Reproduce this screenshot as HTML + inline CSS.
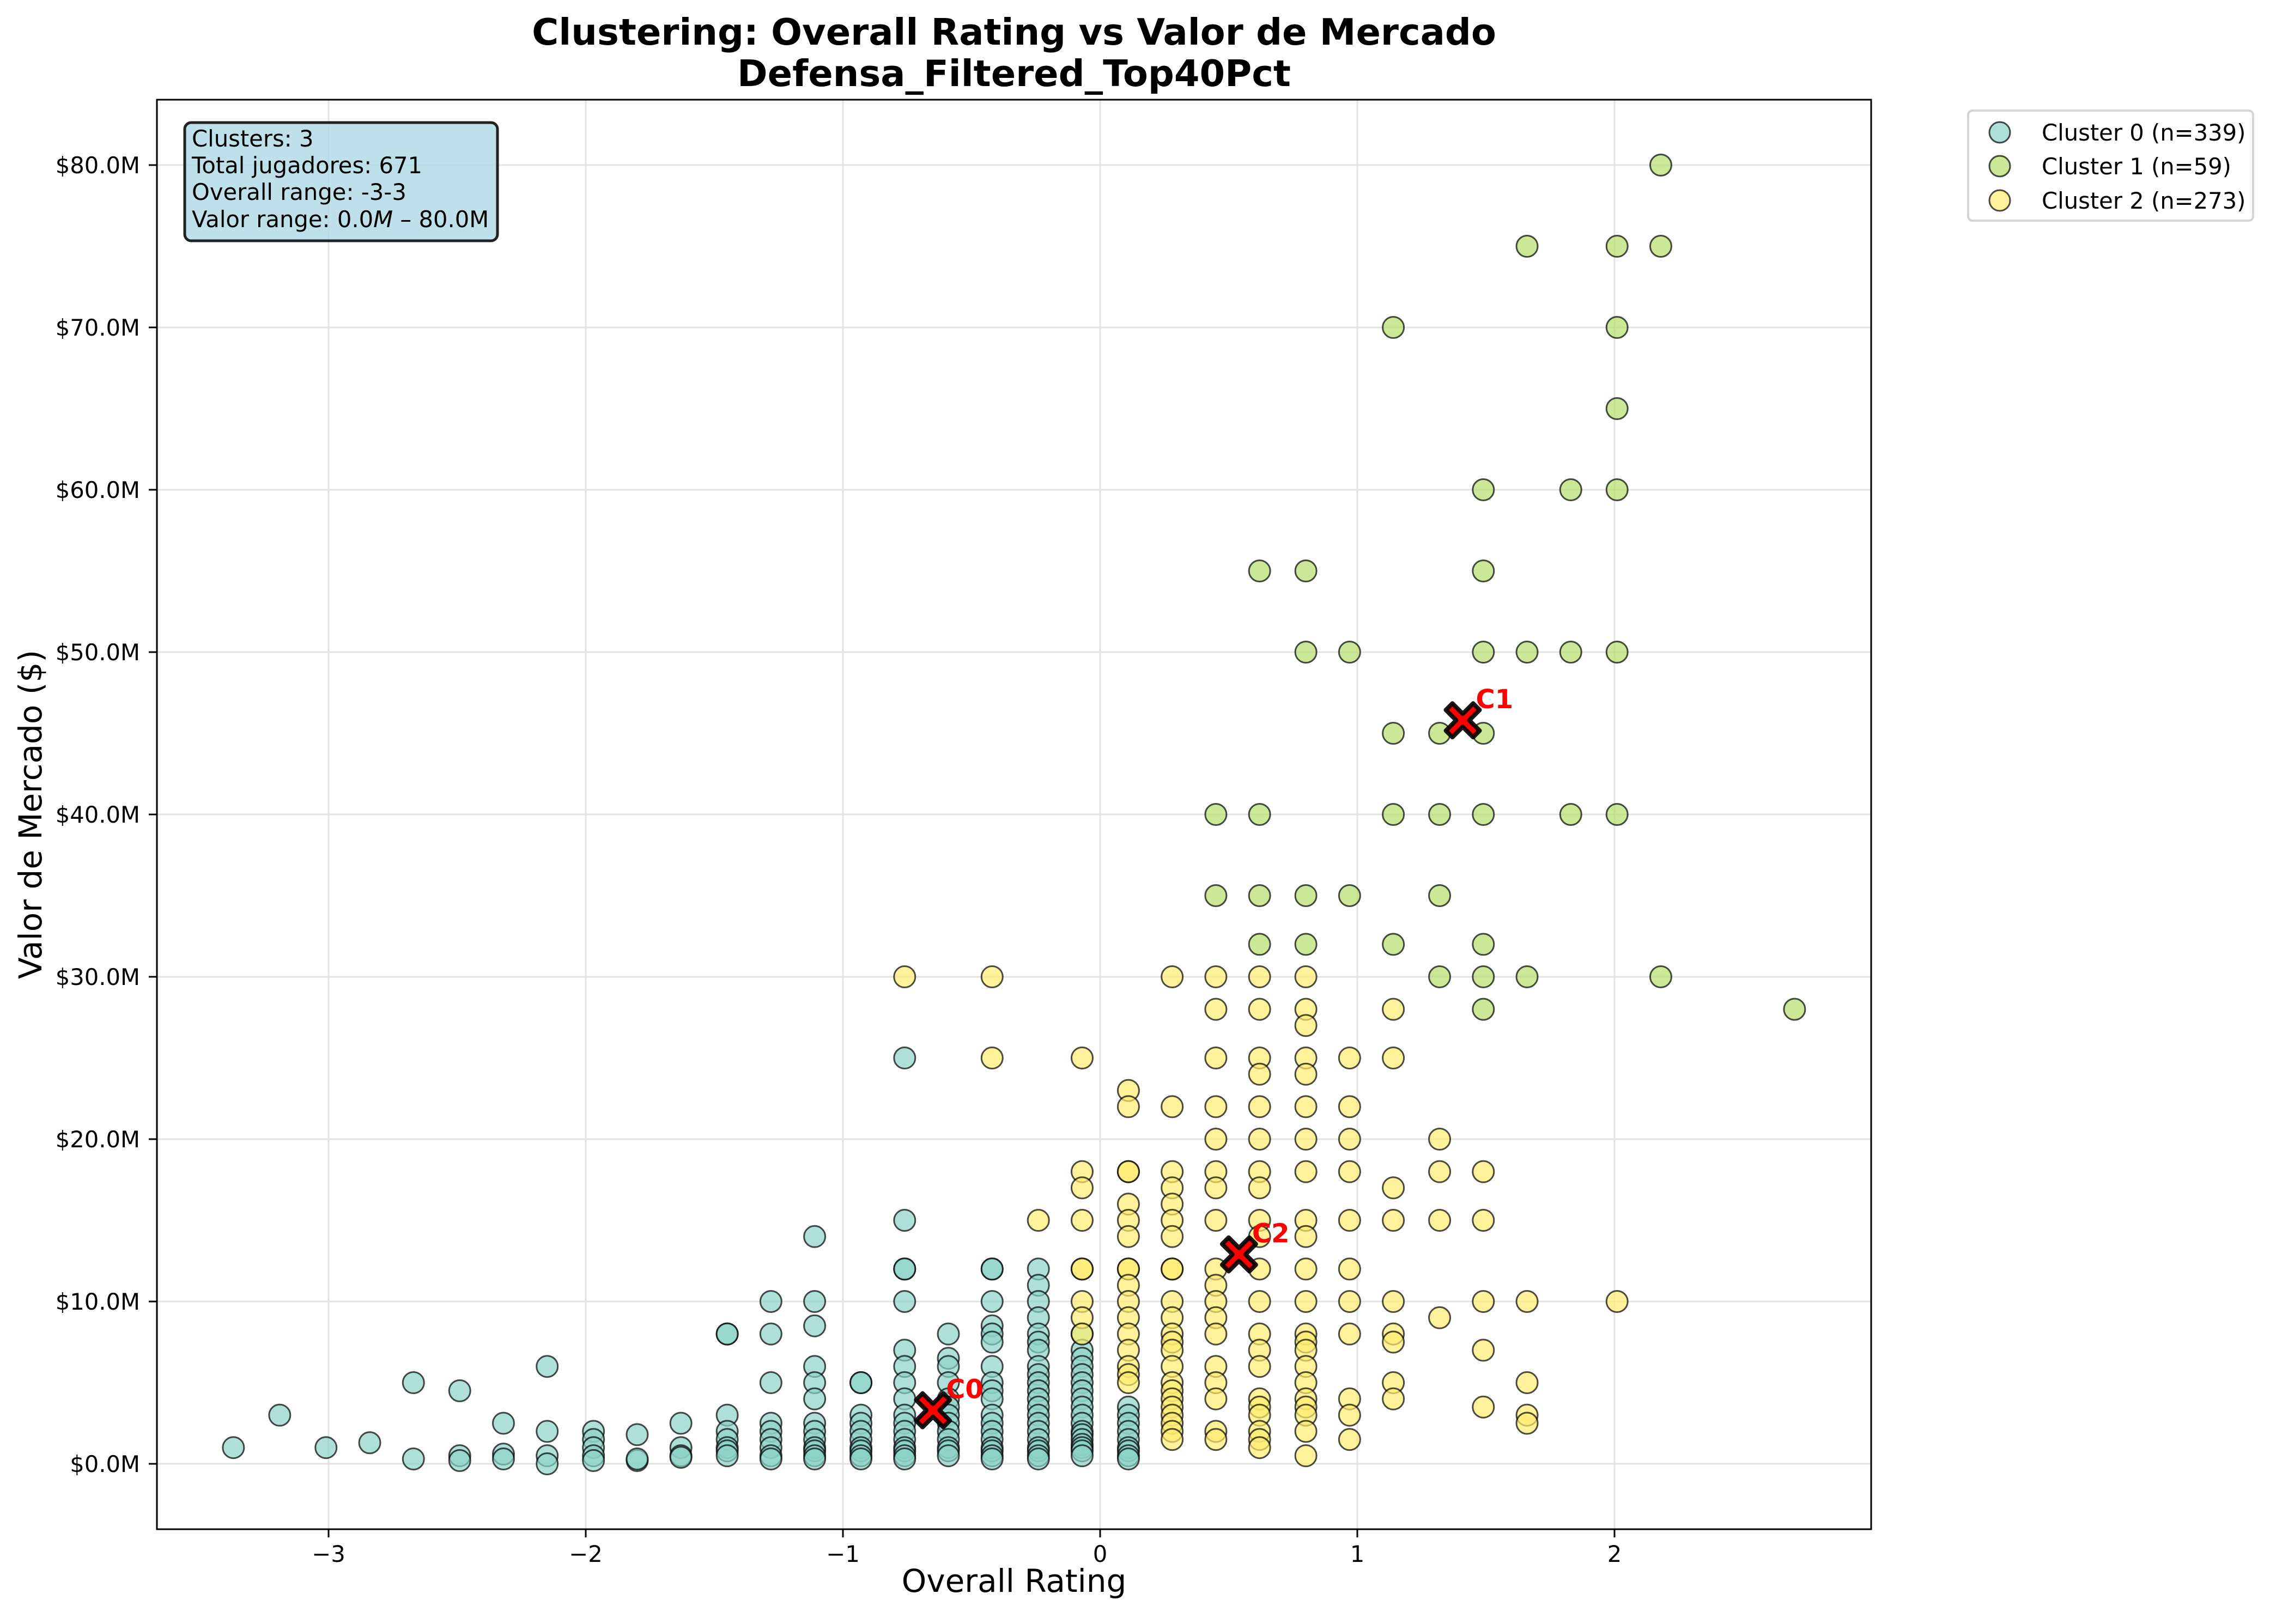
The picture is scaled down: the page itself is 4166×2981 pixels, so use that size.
<!DOCTYPE html>
<html><head><meta charset="utf-8"><style>
html,body{margin:0;padding:0;background:#fff;}
svg{display:block;font-family:"DejaVu Sans","Liberation Sans",sans-serif;}
</style></head><body>
<svg id="chart" width="4166" height="2981" viewBox="0 0 4166 2981" xmlns="http://www.w3.org/2000/svg">
<rect width="4166" height="2981" fill="#fff"/>
<text x="1861" y="82" font-size="67" font-weight="bold" text-anchor="middle">Clustering: Overall Rating vs Valor de Mercado</text>
<text x="1861" y="158" font-size="67" font-weight="bold" text-anchor="middle">Defensa_Filtered_Top40Pct</text>
<g id="grid"></g>
<g id="points"></g>
<g id="centroids"></g>
<rect x="288" y="183" width="3146" height="2624" fill="none" stroke="#000" stroke-width="3"/>
<g id="ticks"></g>
<text x="1861" y="2922" font-size="58" text-anchor="middle">Overall Rating</text>
<text transform="translate(76,1495) rotate(-90)" font-size="58" text-anchor="middle">Valor de Mercado ($)</text>
<g>
<rect x="339" y="225" width="574" height="217" rx="12" fill="#add8e6" fill-opacity="0.8" stroke="#222" stroke-width="5"/>
<text x="352" y="269" font-size="41.7">Clusters: 3</text>
<text x="352" y="318" font-size="41.7">Total jugadores: 671</text>
<text x="352" y="367" font-size="41.7">Overall range: -3-3</text>
<text x="352" y="417" font-size="41.7">Valor range: 0.0<tspan font-style="italic">M</tspan> – 80.0M</text>
</g>
<g>
<rect x="3612" y="203" width="523" height="202" rx="8" fill="#fff" stroke="#d5d5d5" stroke-width="4"/>
<g><circle cx="3670" cy="243" r="19" fill="#8dd3c7" fill-opacity="0.7" stroke="#000" stroke-opacity="0.7" stroke-width="3"/><text x="3747" y="258" font-size="41.7">Cluster 0 (n=339)</text></g>
<g><circle cx="3670" cy="305" r="19" fill="#b3de69" fill-opacity="0.7" stroke="#000" stroke-opacity="0.7" stroke-width="3"/><text x="3747" y="320" font-size="41.7">Cluster 1 (n=59)</text></g>
<g><circle cx="3670" cy="368" r="19" fill="#ffed6f" fill-opacity="0.7" stroke="#000" stroke-opacity="0.7" stroke-width="3"/><text x="3747" y="383" font-size="41.7">Cluster 2 (n=273)</text></g>
</g>
</svg>
<script>
// ---- data ----
const xTicks = [-3, -2, -1, 0, 1, 2];
const xTickLabels = ["\u22123", "\u22122", "\u22121", "0", "1", "2"];
const yTicks = [0, 10, 20, 30, 40, 50, 60, 70, 80];
const yTickLabels = ["$0.0M","$10.0M","$20.0M","$30.0M","$40.0M","$50.0M","$60.0M","$70.0M","$80.0M"];

const cluster0X = [-3.37,-3.19,-3.01,-2.84,-2.67,-2.49,-2.32,-2.15,-1.97,-1.80,-1.63,-1.45,-1.28,-1.11,-0.93,-0.76,-0.59,-0.42,-0.24,-0.07,0.11];
const cluster0V = [
 [1],[3],[1],[1.3],[5,0.3],[4.5,0.5,0.2],[2.5,0.6,0.3],[6,2,0.5,0],[2,1.5,1,0.5,0.2],[1.8,0.2,0.3],[2.5,1,0.5,0.4],
 [8,8,3,2,1.5,1,0.8,0.5],[10,8,5,2.5,2,1.5,1,0.5,0.3],[14,10,8.5,6,5,4,2.5,2,1.5,1,0.8,0.5,0.3],
 [5,5,3,2.5,2,1.5,1,0.8,0.5,0.3],[25,15,12,12,10,7,6,5,4,3,2.5,2,1.5,1,0.8,0.5,0.3],
 [8,6.5,6,5,4,3.5,3,2.5,2,1.5,1,0.8,0.5],[12,12,10,8.5,8,7.5,6,5,4.5,4,3,2.5,2,1.5,1,0.8,0.5,0.3],
 [12,11,10,9,8,7.5,7,6,5.5,5,4.5,4,3.5,3,2.5,2,1.5,1,0.8,0.5,0.3],
 [8,7,6.5,6,5.5,5,4.5,4,3.5,3,2.5,2,1.8,1.5,1.2,1,0.8,0.5],[3.5,3,2.5,2,1.5,1,0.8,0.5,0.3]
];
const cluster1X = [0.45,0.62,0.80,0.97,1.14,1.32,1.49,1.66,1.83,2.01,2.18,2.70];
const cluster1V = [
 [40,35],[55,40,35,32],[55,50,35,32],[50,35],[70,45,40,32],[45,40,35,30],[60,55,50,45,40,32,30,28],
 [75,50,30],[60,50,40],[75,70,65,60,50,40],[80,75,30],[28]
];
const cluster2X = [-0.76,-0.42,-0.24,-0.07,0.11,0.28,0.45,0.62,0.80,0.97,1.14,1.32,1.49,1.66,2.01];
const cluster2V = [
 [30],[30,25],[15],[25,18,17,15,12,12,10,9,8],
 [23,22,18,18,16,15,14,12,12,11,10,9,8,7,6,5.5,5],
 [30,22,18,17,16,15,14,12,12,10,9,8,7.5,7,6,5,4.5,4,3.5,3,2.5,2,1.5],
 [30,28,25,22,20,18,17,15,12,11,10,9,8,6,5,4,2,1.5],
 [30,28,25,24,22,20,18,17,15,14,12,10,8,7,6,4,3.5,3,2,1.5,1],
 [30,28,27,25,24,22,20,18,15,14,12,10,8,7.5,7,6,5,4,3.5,3,2,0.5],
 [25,22,20,18,15,12,10,8,4,3,1.5],[28,25,17,15,10,8,7.5,5,4],[20,18,15,9],[18,15,10,7,3.5],[10,5,3,2.5],[10]
];
const centroidNames = ["C0","C1","C2"];
const centroidX = [-0.65, 1.41, 0.54];
const centroidV = [3.3, 45.8, 12.9];

// ---- scales ----
const X0 = 2019, XU = 472, Y0 = 2687, YU = 29.8;
const sx = x => X0 + x * XU;
const sy = v => Y0 - v * YU;
const NS = "http://www.w3.org/2000/svg";
function mk(tag, attrs, parent) {
  const e = document.createElementNS(NS, tag);
  for (const k in attrs) e.setAttribute(k, attrs[k]);
  parent.appendChild(e);
  return e;
}
const grid = document.getElementById("grid");
const ticks = document.getElementById("ticks");
xTicks.forEach((t, i) => {
  const g = mk("line", {x1: sx(t), x2: sx(t), y1: 183, y2: 2807, stroke: "#e3e3e3", "stroke-width": 3}, grid);
  
  
  const tk = mk("line", {x1: sx(t), x2: sx(t), y1: 2807, y2: 2822, stroke: "#000", "stroke-width": 3}, ticks);
  
  
  const lb = mk("text", {x: sx(t), y: 2867, "font-size": 41.7, "text-anchor": "middle"}, ticks);
  lb.textContent = xTickLabels[i];
  
  
});
yTicks.forEach((t, i) => {
  const g = mk("line", {x1: 288, x2: 3434, y1: sy(t), y2: sy(t), stroke: "#e3e3e3", "stroke-width": 3}, grid);
  
  
  const tk = mk("line", {x1: 273, x2: 288, y1: sy(t), y2: sy(t), stroke: "#000", "stroke-width": 3}, ticks);
  
  
  const lb = mk("text", {x: 257, y: sy(t) + 15, "font-size": 41.7, "text-anchor": "end"}, ticks);
  lb.textContent = yTickLabels[i];
  
  
});
const pts = document.getElementById("points");
function drawCluster(xs, vs, color, name) {
  xs.forEach((x, i) => {
    vs[i].forEach(v => {
      const c = mk("circle", {cx: sx(x), cy: sy(v), r: 19.5, fill: color, "fill-opacity": 0.7, stroke: "#000", "stroke-opacity": 0.7, "stroke-width": 3}, pts);
      
      
    });
  });
}
drawCluster(cluster0X, cluster0V, "#8dd3c7", "cluster-0-point");
drawCluster(cluster1X, cluster1V, "#b3de69", "cluster-1-point");
drawCluster(cluster2X, cluster2V, "#ffed6f", "cluster-2-point");
const cg = document.getElementById("centroids");
centroidNames.forEach((n, i) => {
  const cx = sx(centroidX[i]), cy = sy(centroidV[i]);
  const a = 31, b = 12;
  const d = `M${cx-a+b},${cy-a} L${cx},${cy-b} L${cx+a-b},${cy-a} L${cx+a},${cy-a+b} L${cx+b},${cy} L${cx+a},${cy+a-b} L${cx+a-b},${cy+a} L${cx},${cy+b} L${cx-a+b},${cy+a} L${cx-a},${cy+a-b} L${cx-b},${cy} L${cx-a},${cy-a+b} Z`;
  const m = mk("path", {d: d, fill: "#ff0000", stroke: "#000", "stroke-width": 8, "stroke-linejoin": "round", "stroke-opacity": 0.9}, cg);
  
  
  const t = mk("text", {x: cx + 24, y: cy - 22, "font-size": 48, "font-weight": "bold", fill: "#ff0000"}, cg);
  t.textContent = n;
  
  
});
</script>
</body></html>
